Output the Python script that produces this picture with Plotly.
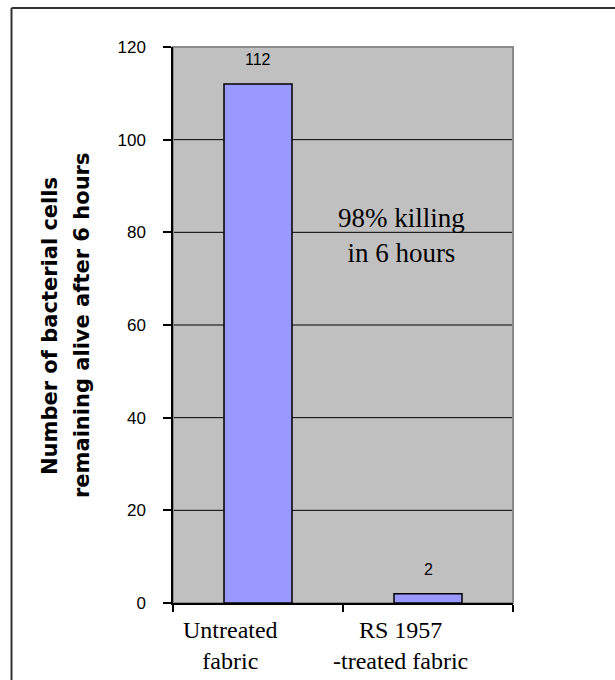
import plotly.graph_objects as go

# ---- data ----
categories = ["Untreated fabric", "RS 1957-treated fabric"]
category_lines = [["Untreated", "fabric"], ["RS 1957", "-treated fabric"]]
surviving_cells = [112, 2]
y_ticks = [0, 20, 40, 60, 80, 100, 120]
grid_levels = [20, 40, 60, 80, 100]
note_lines = ["98% killing", "in 6 hours"]
y_title_lines = ["Number of bacterial cells", "remaining alive after 6 hours"]

# ---- page geometry (pixels) ----
W, H = 615, 680
L, R, T, B = 173, 513, 47, 603


def px_x(px):
    return (px - L) / (R - L)


def px_y(py):
    return (B - py) / (B - T)


SERIF = "Liberation Serif, Times New Roman, serif"
SANS = "Liberation Sans, Arial, sans-serif"

fig = go.Figure()
fig.add_trace(go.Bar(
    x=categories,
    y=surviving_cells,
    width=0.4,
    marker=dict(color="#9999FF", line=dict(color="black", width=1.5)),
    hoverinfo="skip",
))

# value labels above each bar
for cat, val in zip(categories, surviving_cells):
    fig.add_annotation(x=cat, y=val, text=str(val), showarrow=False,
                       yanchor="bottom", yshift=14,
                       font=dict(family=SANS, size=16, color="black"))

# two-line category labels under the axis
for cat, lines in zip(categories, category_lines):
    fig.add_annotation(x=cat, y=0, yref="y", text="<br>".join(lines),
                       showarrow=False, yanchor="top", xanchor="center",
                       xshift=-28, yshift=-12, align="center",
                       font=dict(family=SERIF, size=24, color="black"))

# in-plot note
fig.add_annotation(x=px_x(401), y=px_y(235), xref="paper", yref="paper",
                   text="<br>".join(note_lines), showarrow=False,
                   xanchor="center", yanchor="middle",
                   font=dict(family=SERIF, size=27, color="black"),
                   align="center")

# rotated y-axis title, one annotation per line
for xc, line in zip([50, 82], y_title_lines):
    fig.add_annotation(x=px_x(xc), y=px_y(326), xref="paper", yref="paper",
                       text=f"<b>{line}</b>", textangle=-90, showarrow=False,
                       xanchor="center", yanchor="middle",
                       font=dict(family="DejaVu Sans, sans-serif", size=21,
                                 color="black"))

# horizontal grid lines
for g in grid_levels:
    fig.add_shape(type="line", xref="paper", yref="y", x0=0, x1=1, y0=g, y1=g,
                  line=dict(color="black", width=1), layer="below")

# plot-area border (top and right visible in grey)
fig.add_shape(type="rect", xref="paper", yref="paper", x0=0, x1=1, y0=0, y1=1,
              line=dict(color="#8a8a8a", width=2), layer="below")

# outer frame (left and top edges)
fig.add_shape(type="line", xref="paper", yref="paper",
              x0=px_x(11.5), x1=px_x(11.5), y0=px_y(8), y1=px_y(H + 5),
              line=dict(color="#333333", width=2))
fig.add_shape(type="line", xref="paper", yref="paper",
              x0=px_x(11.5), x1=px_x(W + 5), y0=px_y(8), y1=px_y(8),
              line=dict(color="#333333", width=2))

fig.update_layout(
    width=W, height=H,
    margin=dict(l=L, r=W - R, t=T, b=H - B),
    paper_bgcolor="white",
    plot_bgcolor="#C0C0C0",
    showlegend=False,
    bargap=0.6,
    xaxis=dict(
        type="category",
        categoryorder="array", categoryarray=categories,
        range=[-0.5, 1.5],
        showticklabels=False,
        tickson="boundaries",
        ticks="outside", ticklen=7, tickcolor="black", tickwidth=1.5,
        showline=True, linecolor="black", linewidth=1.5,
        showgrid=False, zeroline=False, fixedrange=True,
    ),
    yaxis=dict(
        range=[0, 120],
        tickvals=y_ticks,
        ticks="outside", ticklen=8, tickcolor="black", tickwidth=1.5,
        ticklabelstandoff=14,
        tickfont=dict(family=SANS, size=17, color="black"),
        showline=True, linecolor="black", linewidth=1.5,
        showgrid=False, zeroline=False, fixedrange=True,
    ),
)

fig.write_html("out.html", config={"displayModeBar": False})
